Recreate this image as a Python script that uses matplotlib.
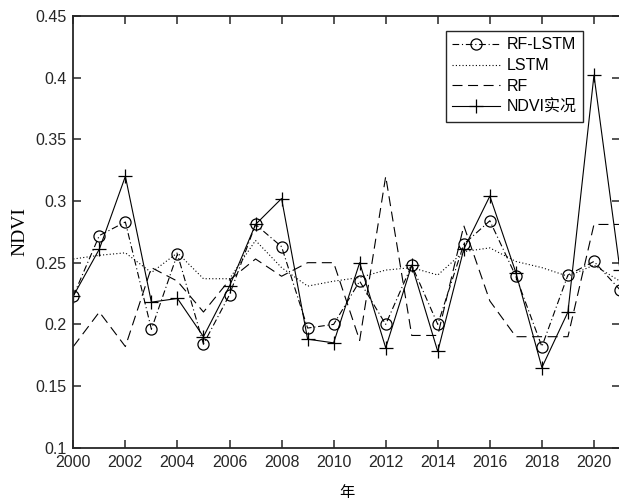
import numpy as np
import matplotlib
matplotlib.use('Agg')
import matplotlib.pyplot as plt

# 年份
years = np.arange(2000, 2022)

# 各模型 NDVI
rf_lstm = [0.223, 0.272, 0.283, 0.196, 0.257, 0.184, 0.224, 0.281, 0.263, 0.197, 0.200,
           0.235, 0.200, 0.248, 0.200, 0.265, 0.284, 0.239, 0.182, 0.240, 0.251, 0.228]
lstm = [0.253, 0.256, 0.258, 0.242, 0.258, 0.237, 0.237, 0.268, 0.246, 0.231, 0.235,
        0.238, 0.244, 0.246, 0.240, 0.259, 0.262, 0.251, 0.246, 0.239, 0.248, 0.235]
rf = [0.182, 0.210, 0.182, 0.246, 0.235, 0.210, 0.236, 0.253, 0.239, 0.250, 0.250,
      0.187, 0.320, 0.191, 0.191, 0.280, 0.219, 0.190, 0.190, 0.190, 0.281, 0.281]
ndvi = [0.223, 0.261, 0.320, 0.218, 0.221, 0.190, 0.231, 0.281, 0.302, 0.188, 0.185,
        0.250, 0.181, 0.248, 0.178, 0.261, 0.304, 0.242, 0.165, 0.210, 0.402, 0.244]

xticks = np.arange(2000, 2021, 2)
yticks = [0.1, 0.15, 0.2, 0.25, 0.3, 0.35, 0.4, 0.45]

plt.rcParams['font.family'] = ['Liberation Sans', 'Noto Sans CJK SC']
axc = '#262626'

fig = plt.figure(figsize=(6.19, 5.0), dpi=100)
ax = fig.add_axes([73.3/619, 1-447.7/500, (620-73.3)/619, (447.7-16)/500])

lw = 0.8
ax.plot(years, rf_lstm, color='k', lw=lw, ls=(0, (6, 2.5, 1, 2.5)),
        marker='o', ms=8, mfc='none', mec='k', mew=0.9, label='RF-LSTM')
ax.plot(years, lstm, color='k', lw=lw, ls=(0, (1, 2)), label='LSTM')
ax.plot(years, rf, color='k', lw=lw, ls=(0, (9, 5)), label='RF')
ax.plot(years, ndvi, color='k', lw=lw, ls='-', marker='+', ms=10, mew=0.9,
        label='NDVI实况')

ax.set_xlim(2000, 2021)
ax.set_ylim(0.1, 0.45)
ax.set_xticks(xticks)
ax.set_yticks(yticks)
ax.set_yticklabels(['0.1', '0.15', '0.2', '0.25', '0.3', '0.35', '0.4', '0.45'])
ax.tick_params(direction='in', length=6, width=1.1, color=axc, labelcolor=axc,
               labelsize=11.5, top=True, right=True, pad=5)
for s in ax.spines.values():
    s.set_color(axc)
    s.set_linewidth(1.3)
ax.spines['right'].set_visible(False)

ax.set_ylabel('NDVI', family=['Liberation Serif', 'Noto Sans CJK SC'], fontsize=14, labelpad=5)
ax.set_xlabel('年', family=['Noto Sans CJK SC'], fontsize=11, labelpad=10)

leg = ax.legend(loc='upper left', bbox_to_anchor=(0.681, 0.966), fontsize=11.5,
                frameon=True, fancybox=False, edgecolor=axc, framealpha=1,
                handlelength=3.0, handletextpad=0.4, labelspacing=0.36, borderpad=0.42,
                borderaxespad=0)
leg.get_frame().set_linewidth(1.0)

fig.savefig('out.png', dpi=100)
